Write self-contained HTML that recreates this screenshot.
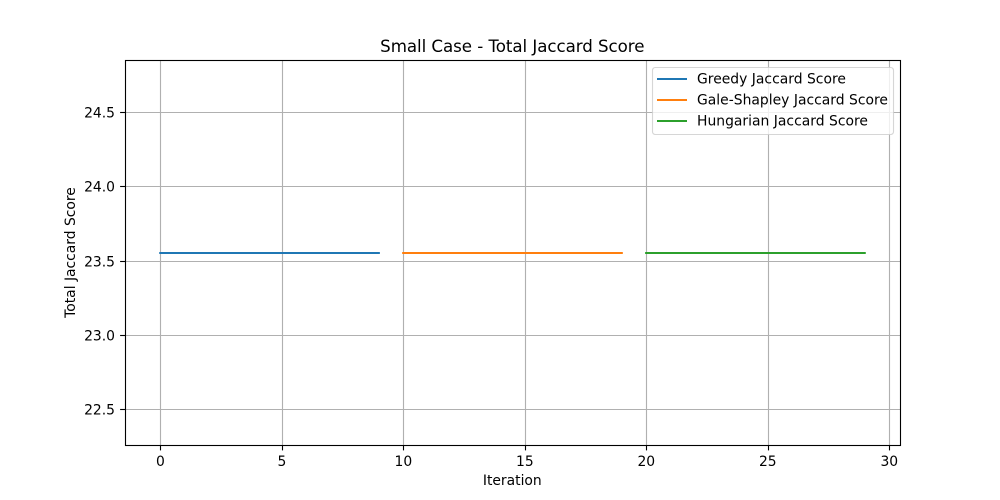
<!DOCTYPE html>
<html lang="en">
<head>
<meta charset="utf-8">
<title>Small Case - Total Jaccard Score</title>
<style>
html,body{margin:0;padding:0;background:#fff;width:1000px;height:500px;overflow:hidden}
svg{display:block}
text{font-family:"DejaVu Sans","Liberation Sans",sans-serif;fill:#000}
</style>
</head>
<body>
<svg id="chart" xmlns="http://www.w3.org/2000/svg" width="1000" height="500" viewBox="0 0 1000 500">
  <rect x="0" y="0" width="1000" height="500" fill="#fff"/>
  <rect x="125" y="60" width="775" height="385" fill="#fff"/>
  <g id="grid"></g>
  <g id="series"></g>
  <g id="ticks"></g>
  <rect x="125.5" y="60.5" width="775" height="385" fill="none" stroke="#000" stroke-width="1.11"/>
  <text x="512.3" y="52" font-size="16.67" text-anchor="middle" letter-spacing="-0.05">Small Case - Total Jaccard Score</text>
  <text x="512.3" y="485" font-size="13.89" text-anchor="middle">Iteration</text>
  <text transform="translate(75 252.5) rotate(-90)" font-size="13.89" text-anchor="middle">Total Jaccard Score</text>
  <g id="legend">
    <rect x="652.5" y="67.5" width="241" height="67" rx="2.8" ry="2.8" fill="#fff" fill-opacity="0.8" stroke="#ccc" stroke-opacity="0.8" stroke-width="1.11"/>
  </g>
</svg>
<script>
var seriesNames = ["Greedy Jaccard Score", "Gale-Shapley Jaccard Score", "Hungarian Jaccard Score"];
var seriesColors = ["#1f77b4", "#ff7f0e", "#2ca02c"];
var greedyIterations = [0, 1, 2, 3, 4, 5, 6, 7, 8, 9];
var greedyScores = [23.55, 23.55, 23.55, 23.55, 23.55, 23.55, 23.55, 23.55, 23.55, 23.55];
var galeShapleyIterations = [10, 11, 12, 13, 14, 15, 16, 17, 18, 19];
var galeShapleyScores = [23.55, 23.55, 23.55, 23.55, 23.55, 23.55, 23.55, 23.55, 23.55, 23.55];
var hungarianIterations = [20, 21, 22, 23, 24, 25, 26, 27, 28, 29];
var hungarianScores = [23.55, 23.55, 23.55, 23.55, 23.55, 23.55, 23.55, 23.55, 23.55, 23.55];
var xTickValues = [0, 5, 10, 15, 20, 25, 30];
var yTickValues = [22.5, 23.0, 23.5, 24.0, 24.5];
var xDomain = [-1.45, 30.45];
var yDomain = [22.26, 24.85];

var SVG_NS = "http://www.w3.org/2000/svg";
var plot = { left: 125, right: 900, top: 60, bottom: 445 };

function xScale(v) {
  return plot.left + (v - xDomain[0]) / (xDomain[1] - xDomain[0]) * (plot.right - plot.left);
}
function yScale(v) {
  return plot.bottom - (v - yDomain[0]) / (yDomain[1] - yDomain[0]) * (plot.bottom - plot.top);
}
function snap(v) {
  return Math.round(v) + 0.5;
}
function makeEl(tag, attrs, parent) {
  var el = document.createElementNS(SVG_NS, tag);
  Object.keys(attrs).forEach(function (k) { el.setAttribute(k, attrs[k]); });
  parent.appendChild(el);
  return el;
}

var gridGroup = document.getElementById("grid");
var tickGroup = document.getElementById("ticks");
var seriesGroup = document.getElementById("series");
var legendGroup = document.getElementById("legend");

xTickValues.forEach(function (t) {
  var x = snap(xScale(t));
  var g = makeEl("line", { x1: x, x2: x, y1: plot.top, y2: plot.bottom, stroke: "#b0b0b0", "stroke-width": 1.11 }, gridGroup);
  
  
  var m = makeEl("line", { x1: x, x2: x, y1: plot.bottom, y2: plot.bottom + 5.4, stroke: "#000", "stroke-width": 1.11 }, tickGroup);
  
  
  var l = makeEl("text", { x: xScale(t) + 0.2, y: 466, "font-size": 13.89, "text-anchor": "middle" }, tickGroup);
  
  
  l.textContent = String(t);
});

yTickValues.forEach(function (t) {
  var y = snap(yScale(t));
  var g = makeEl("line", { x1: plot.left, x2: plot.right, y1: y, y2: y, stroke: "#b0b0b0", "stroke-width": 1.11 }, gridGroup);
  
  
  var m = makeEl("line", { x1: plot.left - 4.9, x2: plot.left, y1: y, y2: y, stroke: "#000", "stroke-width": 1.11 }, tickGroup);
  
  
  var l = makeEl("text", { x: 115, y: y + 5, "font-size": 13.89, "text-anchor": "end" }, tickGroup);
  
  
  l.textContent = t.toFixed(1);
});

function drawSeries(xs, ys, color, name) {
  var pts = xs.map(function (x, i) {
    return xScale(x).toFixed(2) + "," + Math.round(yScale(ys[i]));
  }).join(" ");
  var p = makeEl("polyline", { points: pts, fill: "none", stroke: color, "stroke-width": 2, "stroke-linecap": "square", "stroke-linejoin": "round" }, seriesGroup);
  
  
}
drawSeries(greedyIterations, greedyScores, seriesColors[0], "greedy-score-line");
drawSeries(galeShapleyIterations, galeShapleyScores, seriesColors[1], "gale-shapley-score-line");
drawSeries(hungarianIterations, hungarianScores, seriesColors[2], "hungarian-score-line");

seriesNames.forEach(function (name, i) {
  var rowY = 79 + i * 21;
  var s = makeEl("line", { x1: 657, x2: 687, y1: rowY, y2: rowY, stroke: seriesColors[i], "stroke-width": 2 }, legendGroup);
  
  
  var t = makeEl("text", { x: 697, y: rowY + 4.5, "font-size": 13.89, "letter-spacing": 0.02 }, legendGroup);
  
  
  t.textContent = name;
});
</script>
</body>
</html>
